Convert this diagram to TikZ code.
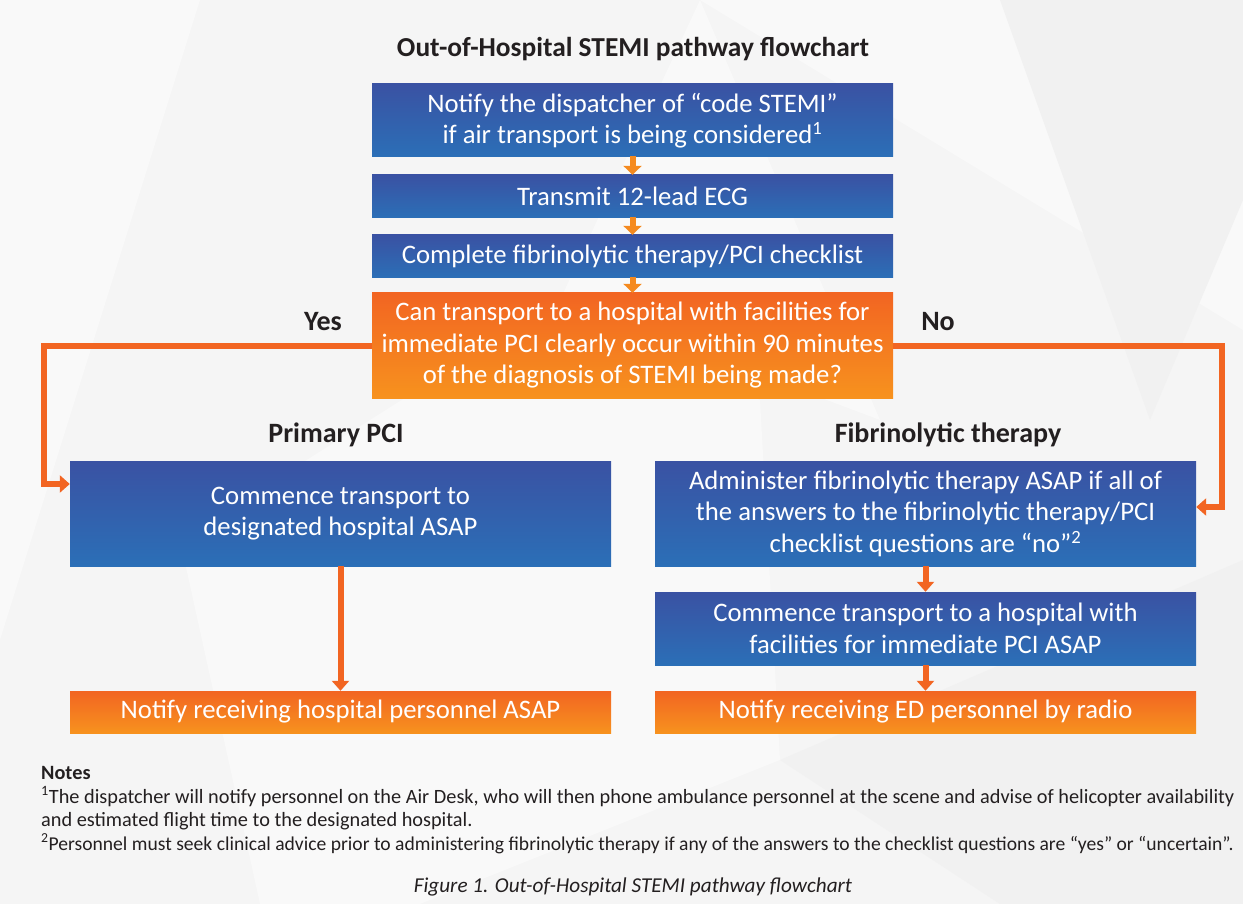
\documentclass[tikz,border=0pt]{standalone}
\usepackage{fontspec}
\setmainfont{Carlito}
\usetikzlibrary{arrows.meta,calc}
\definecolor{bgA}{HTML}{F5F5F5}
\definecolor{bgB}{HTML}{F9F9F9}
\definecolor{bgC}{HTML}{F1F1F1}
\definecolor{blueT}{HTML}{3A52A3}
\definecolor{blueB}{HTML}{2B6FB7}
\definecolor{orT}{HTML}{F26522}
\definecolor{orB}{HTML}{F7921E}
\definecolor{conn}{HTML}{F26522}
\definecolor{smallarr}{HTML}{F58A1F}
\definecolor{txt}{HTML}{231F20}
\tikzset{
  bluebox/.style={rectangle, top color=blueT, bottom color=blueB, draw=none, text=white,
    inner sep=0pt, align=center, font=\fontsize{26.7}{31.5}\selectfont},
  orbox/.style={rectangle, top color=orT, bottom color=orB, draw=none, text=white,
    inner sep=0pt, align=center, font=\fontsize{26.7}{31.5}\selectfont},
  heading/.style={text=txt, font=\bfseries\fontsize{28}{32}\selectfont, inner sep=0pt},
  connline/.style={draw=conn, line width=6pt, -{Triangle[width=17pt,length=10pt]}},
  minorarr/.style={draw=smallarr, line width=6pt, -{Triangle[width=18pt,length=9pt]}, shorten <=-1pt},
  notetext/.style={text=txt, anchor=base west, inner sep=0pt, font=\fontsize{20.3}{24}\selectfont},
}
\begin{document}
\begin{tikzpicture}[x=1pt,y=-1pt]
\useasboundingbox (0,0) rectangle (1243,904);
\clip (0,0) rectangle (1243,904);
% background
\fill[bgA] (0,0) rectangle (1243,904);
\fill[bgB] (0,0) -- (200,0) -- (0,640) -- cycle;
\fill[bgB] (700,0) -- (1243,0) -- (1243,330) -- cycle;
\fill[bgC] (1000,0) -- (1243,0) -- (1243,200) -- (1150,420) -- cycle;
\fill[bgB] (180,540) -- (560,300) -- (760,400) -- (780,760) -- (420,904) -- (260,904) -- cycle;
\fill[bgC] (780,760) -- (1243,560) -- (1243,904) -- (1000,904) -- cycle;
\fill[bgB] (560,300) -- (700,0) -- (880,420) -- cycle;

% title
\node[heading, font=\bfseries\fontsize{27.4}{32}\selectfont] (title) at (633,49) {Out-of-Hospital STEMI pathway flowchart};

% top column
\node[bluebox, minimum width=521pt, minimum height=73pt] (b1) at (632.5,120.5)
  {Notify the dispatcher of “code STEMI”\\if air transport is being considered\textsuperscript{1}};
\node[bluebox, minimum width=521pt, minimum height=43pt] (b2) at (632.5,196.5) {Transmit 12-lead ECG};
\node[bluebox, minimum width=521pt, minimum height=43pt] (b3) at (632.5,256.5) {Complete fibrinolytic therapy/PCI checklist};
\node[orbox, minimum width=521pt, minimum height=105pt] (q) at (632.5,345.5)
  {Can transport to a hospital with facilities for\\immediate PCI clearly occur within 90 minutes\\of the diagnosis of STEMI being made?};

\draw[minorarr] (b1.south) -- (b2.north);
\draw[minorarr] (b2.south) -- (b3.north);
\draw[minorarr] (b3.south) -- (q.north);

% labels
\node[heading] (yes) at (323,322) {Yes};
\node[heading] (no) at (938,322) {No};
\node[heading] (hpp) at (336,435) {Primary PCI};
\node[heading] (hft) at (948,435) {Fibrinolytic therapy};

% left branch
\node[bluebox, minimum width=541pt, minimum height=105pt] (pp) at (340.5,513.5)
  {Commence transport to\\designated hospital ASAP};
\node[orbox, minimum width=541pt, minimum height=42pt] (np) at (340.5,712)
  {Notify receiving hospital personnel ASAP};

% right branch
\node[bluebox, minimum width=541pt, minimum height=105pt] (ft) at (925.5,513.5)
  {Administer fibrinolytic therapy ASAP if all of\\the answers to the fibrinolytic therapy/PCI\\checklist questions are “no”\textsuperscript{2}};
\node[bluebox, minimum width=541pt, minimum height=73pt] (ct) at (925.5,628.5)
  {Commence transport to a hospital with\\facilities for immediate PCI ASAP};
\node[orbox, minimum width=541pt, minimum height=42pt] (ne) at (925.5,712)
  {Notify receiving ED personnel by radio};

% connectors
\coordinate (yc) at (44,484);
\coordinate (nc) at (1222,507);
\draw[connline] (q.west) -| (yc) -- (pp.west |- yc);
\draw[connline] (q.east) -| (nc) -- (ft.east |- nc);
\draw[connline] (pp.south) -- (np.north);
\draw[connline] (ft.south) -- (ct.north);
\draw[connline] (ct.south) -- (ne.north);

% notes
\node[notetext, font=\bfseries\fontsize{20.3}{24}\selectfont] (notes) at (41,779) {Notes};
\node[notetext] (n1) at (41,803) {\textsuperscript{1}The dispatcher will notify personnel on the Air Desk, who will then phone ambulance personnel at the scene and advise of helicopter availability};
\node[notetext] (n1b) at (41,826) {and estimated flight time to the designated hospital.};
\node[notetext, font=\fontsize{19.6}{24}\selectfont] (n2) at (41,850) {\textsuperscript{2}Personnel must seek clinical advice prior to administering fibrinolytic therapy if any of the answers to the checklist questions are “yes” or “uncertain”.};

% caption
\node[text=txt, inner sep=0pt, font=\itshape\fontsize{21.2}{25}\selectfont] (cap) at (633,887) {Figure 1. Out-of-Hospital STEMI pathway flowchart};
\end{tikzpicture}
\end{document}
